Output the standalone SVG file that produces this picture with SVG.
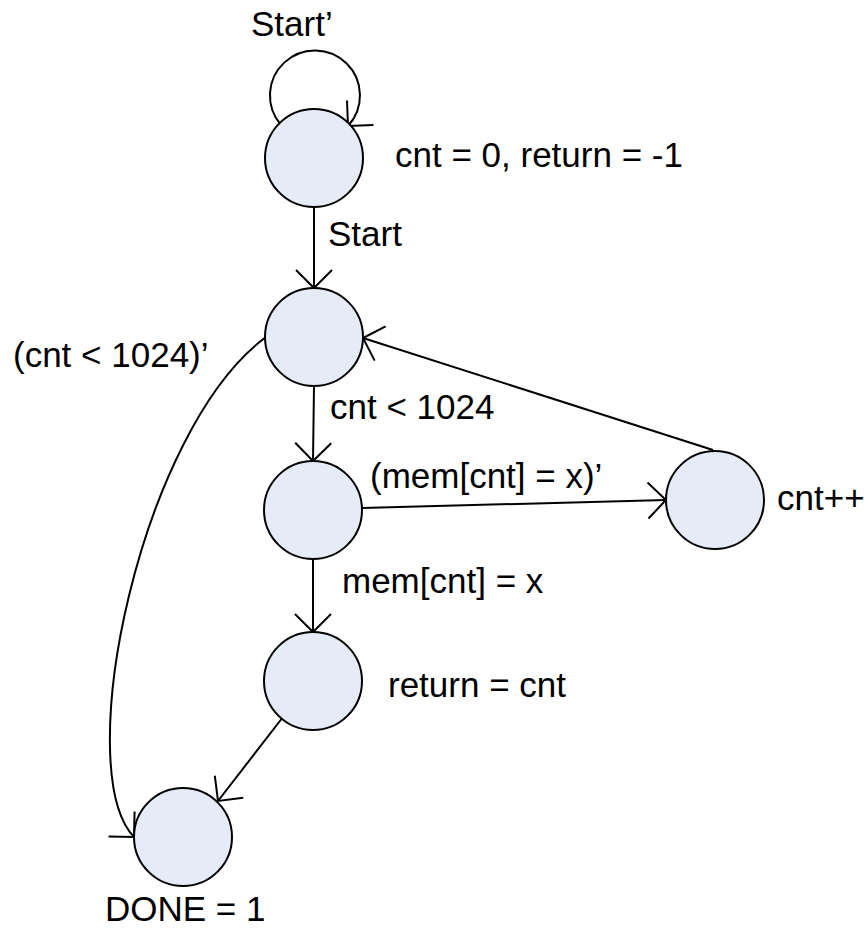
<svg xmlns="http://www.w3.org/2000/svg" width="868" height="930" viewBox="0 0 868 930">
<style>
.node{fill:#e5ecf7;stroke:#000;stroke-width:2}
.edge{fill:none;stroke:#000;stroke-width:2;marker-end:url(#arr)}
text{font-family:"Liberation Sans",Arial,sans-serif;font-size:35px;fill:#000}
</style>
<defs>
<marker id="arr" markerUnits="userSpaceOnUse" orient="auto" refX="0" refY="0" markerWidth="40" markerHeight="40" overflow="visible">
<path d="M -18 -18 L 0 0 L -18 18" fill="none" stroke="#000" stroke-width="2"/>
</marker>
</defs>
<g id="connectors">
<path class="edge" d="M 281 125 A 45 45 0 1 1 348 126"/>
<path class="edge" d="M 314 207 L 314 288"/>
<path class="edge" d="M 314 386 L 313 461"/>
<path class="edge" d="M 362 508 L 666 500"/>
<path class="edge" d="M 713 450 L 363 338"/>
<path class="edge" d="M 313 559 L 313 632"/>
<path class="edge" d="M 283 717 L 218 801"/>
<path class="edge" d="M 266 337 C 140 430 70 770 134 837"/>
</g>
<g id="n1"><circle class="node" cx="314" cy="158" r="49"/><text x="395" y="167">cnt = 0, return = -1</text></g>
<g id="n2"><circle class="node" cx="314" cy="337" r="49"/></g>
<g id="n3"><circle class="node" cx="313" cy="510" r="49"/></g>
<g id="n4"><circle class="node" cx="313" cy="681" r="49"/><text x="388" y="697">return = cnt</text></g>
<g id="n5"><circle class="node" cx="715" cy="500" r="49"/><text x="777" y="510">cnt++</text></g>
<g id="n6"><circle class="node" cx="183" cy="837" r="49"/><text x="105" y="921">DONE = 1</text></g>
<g id="labels">
<text x="251" y="36">Start’</text>
<text x="328" y="246">Start</text>
<text x="13" y="367">(cnt &lt; 1024)’</text>
<text x="330" y="419">cnt &lt; 1024</text>
<text x="370" y="488">(mem[cnt] = x)’</text>
<text x="342" y="593">mem[cnt] = x</text>
</g>
</svg>
